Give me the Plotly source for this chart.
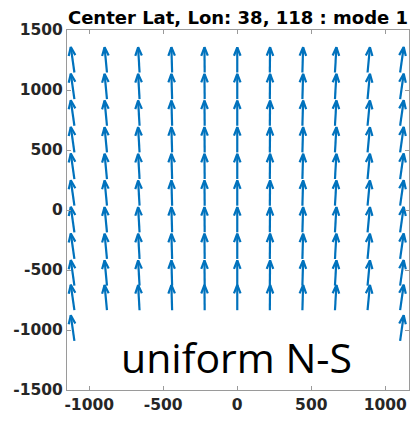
import math
import plotly.graph_objects as go
import plotly.figure_factory as ff

# Grid columns (km east of the centre point) and vector tail rows (km north)
col_x = [-1100, -880, -660, -440, -220, 0, 220, 440, 660, 880, 1100]
row_y = [1146, 924, 702, 480, 258, 36, -186, -408, -630, -835]
edge_row_y = [-1090]          # extra southern row reached by the outermost columns
# East and north components of the mode-1 vectors in each column
col_u = [-30, -20, -12, -6, -2, 0, 2, 6, 12, 20, 30]
col_v = [212, 210, 210, 210, 210, 210, 210, 210, 210, 210, 212]

x_ticks = [-1000, -500, 0, 500, 1000]
x_ticktext = ["-1000", "-500", "0", "500", "1000"]
y_ticks = [-1500, -1000, -500, 0, 500, 1000, 1500]
y_ticktext = ["-1500", "-1000", "-500", "0", "500", "1000", "1500"]

title_text = "Center Lat, Lon: 38, 118 : mode 1"
note_text = "uniform N-S"

xs, ys, us, vs = [], [], [], []
for cx, cu, cv in zip(col_x, col_u, col_v):
    rows = row_y + (edge_row_y if cx in (col_x[0], col_x[-1]) else [])
    for ry in rows:
        xs.append(cx)
        ys.append(ry)
        us.append(cu)
        vs.append(cv)

fig = ff.create_quiver(
    xs, ys, us, vs,
    scale=1, arrow_scale=0.36, angle=math.pi / 8.5, scaleratio=0.81,
    line=dict(color="#0072BD", width=2.2),
    hoverinfo="skip", showlegend=False,
)
# create_quiver locks the axis aspect; the axes here are free
fig.layout.yaxis.scaleanchor = None
fig.layout.yaxis.scaleratio = None

tick_font = dict(family="DejaVu Sans", size=15.5, weight="bold", color="#262626")
axis_common = dict(
    ticks="inside", ticklen=4, tickcolor="#9a9a9a", tickwidth=1,
    showline=True, linecolor="#9a9a9a", linewidth=1, mirror="allticks",
    showgrid=False, zeroline=False, tickfont=tick_font,
)
fig.update_xaxes(range=[-1150, 1160], tickvals=x_ticks, ticktext=x_ticktext, **axis_common)
fig.update_yaxes(range=[-1500, 1500], tickvals=y_ticks, ticktext=y_ticktext, **axis_common)

fig.add_annotation(
    x=-5, y=-1225, xref="x", yref="y", text=note_text, showarrow=False,
    font=dict(family="Open Sans", size=41, color="black"),
)

fig.update_layout(
    width=410, height=423,
    margin=dict(l=67, r=1, t=30, b=33),
    plot_bgcolor="white", paper_bgcolor="white",
    showlegend=False,
    title=dict(
        text=title_text, x=0.5, xref="paper", xanchor="center",
        y=1 - 18 / 423, yref="container", yanchor="middle",
        font=dict(family="DejaVu Sans", size=18, weight="bold", color="black"),
    ),
)

fig.write_html("out.html")
